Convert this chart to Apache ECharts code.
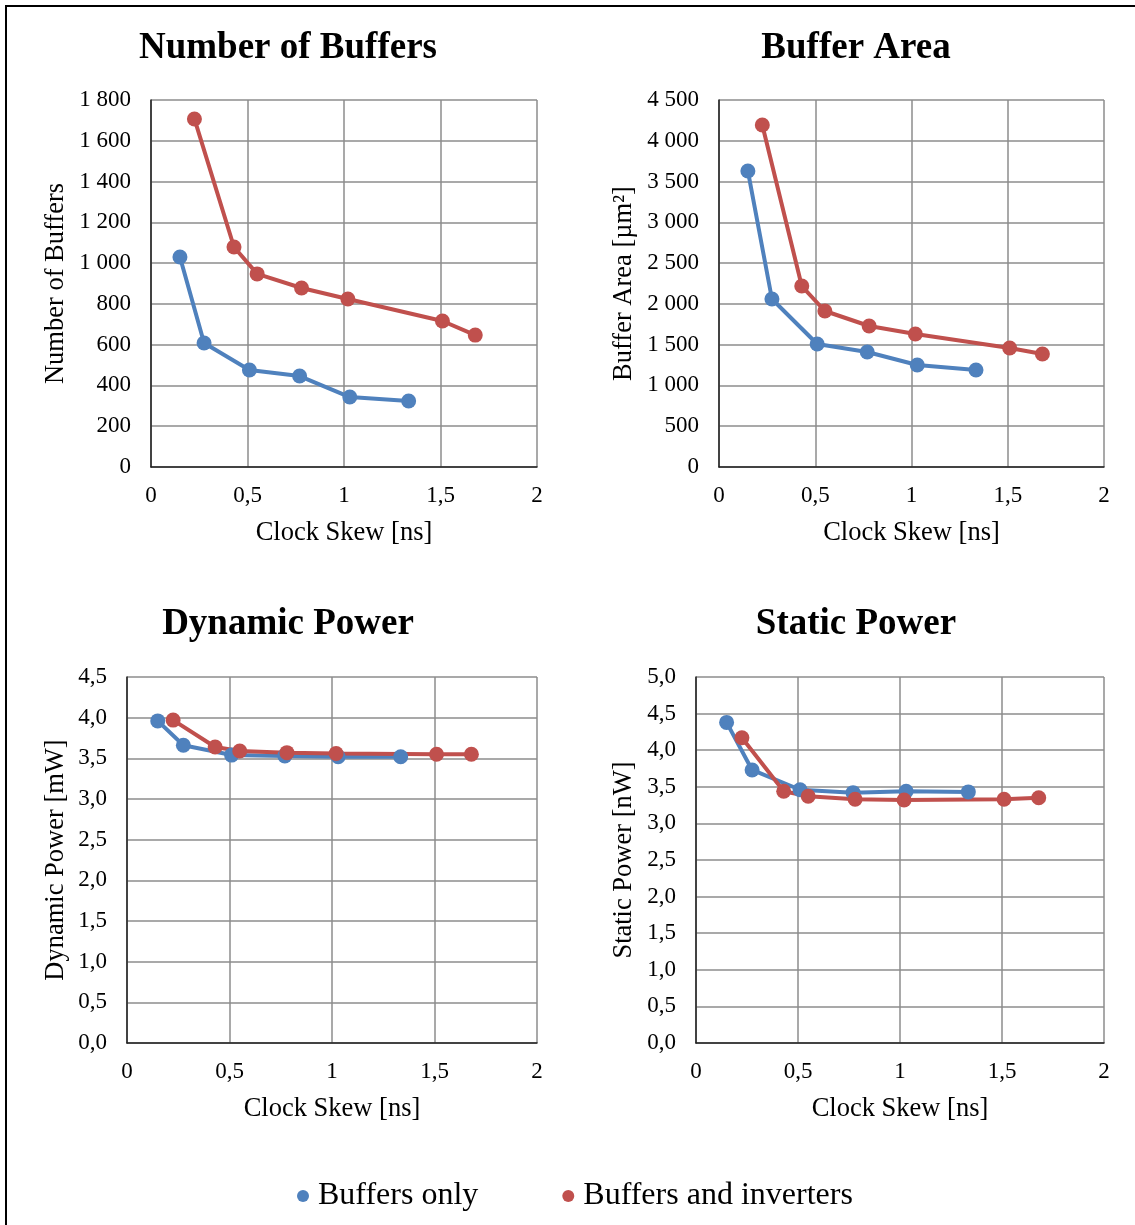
<!DOCTYPE html>
<html>
<head>
<meta charset="utf-8">
<script src="https://cdn.jsdelivr.net/npm/echarts@6/dist/echarts.min.js"></script>
<style>
  html, body { margin: 0; padding: 0; background: #fff; }
  #frame { position: absolute; left: 5px; top: 5px; width: 1135px; height: 1225px;
           border-left: 2px solid #000; border-top: 2px solid #000; box-sizing: border-box; }
  #chart { position: absolute; left: 0; top: 0; width: 1135px; height: 1225px; }
</style>
</head>
<body>
<div id="frame"></div>
<div id="chart"></div>
<script>
// clock skew [ns]
const skewBuffers = [0.15, 0.275, 0.51, 0.77, 1.03, 1.335]
const skewInverters = [0.225, 0.43, 0.55, 0.78, 1.02, 1.51, 1.68]

const countBuffers = [1030, 608, 476, 446, 343, 324]
const countInverters = [1707, 1079, 947, 878, 824, 716, 647]

const areaBuffers = [3630, 2060, 1508, 1410, 1251, 1189]
const areaInverters = [4193, 2219, 1913, 1729, 1631, 1459, 1386]

const dynBuffers = [3.96, 3.66, 3.54, 3.53, 3.52, 3.52]
const dynInverters = [3.97, 3.64, 3.59, 3.57, 3.56, 3.55, 3.55]

const statBuffers = [4.38, 3.73, 3.46, 3.42, 3.44, 3.43]
const statInverters = [4.17, 3.44, 3.37, 3.33, 3.32, 3.33, 3.35]

const titles = ['Number of Buffers', 'Buffer Area', 'Dynamic Power', 'Static Power']
const yNames = ['Number of Buffers', 'Buffer Area [µm²]', 'Dynamic Power [mW]', 'Static Power [nW]']
const yMax = [1800, 4500, 4.5, 5]
const yStep = [200, 500, 0.5, 0.5]

const SERIF = 'Liberation Serif, Times New Roman, serif'
const BLUE = '#4f81bd'
const RED = '#c0504d'

const grids = [
  { left: 151, top: 100, width: 386, height: 367 },
  { left: 719, top: 100, width: 385, height: 367 },
  { left: 127, top: 677, width: 410, height: 366 },
  { left: 696, top: 677, width: 408, height: 366 }
]
const titlePos = [[283, 25], [851, 25], [283, 601], [851, 601]]
const yNameGap = [81, 81, 57, 58]

const pairs = (xs, ys) => xs.map((x, i) => [x, ys[i]])

const thousands = (v) => String(v).replace(/\B(?=(\d{3})+(?!\d))/g, ' ')
const decimal = (v) => v.toFixed(1).replace('.', ',')

const gridLine = { show: true, lineStyle: { color: '#8c8c8c', width: 1.5 } }
const axisText = { fontFamily: SERIF, fontSize: 23, color: '#000' }
const nameText = { fontFamily: SERIF, fontSize: 26.5, color: '#000' }

const xAxes = grids.map((g, i) => ({
  type: 'value', gridIndex: i, min: 0, max: 2, interval: 0.5,
  name: 'Clock Skew [ns]', nameLocation: 'middle', nameGap: 53,
  nameTextStyle: nameText,
  axisLine: { show: true, onZero: false, lineStyle: { color: '#222', width: 1.5 } },
  axisTick: { show: false },
  axisLabel: Object.assign({ margin: 17, formatter: (v) => String(v).replace('.', ',') }, axisText),
  splitLine: gridLine
}))

const yAxes = grids.map((g, i) => ({
  type: 'value', gridIndex: i, min: 0, max: yMax[i], interval: yStep[i],
  name: yNames[i], nameLocation: 'middle', nameGap: yNameGap[i],
  nameTextStyle: nameText,
  axisLine: { show: true, lineStyle: { color: '#222', width: 1.5 } },
  axisTick: { show: false },
  axisLabel: Object.assign({ margin: 20, formatter: i < 2 ? thousands : decimal }, axisText),
  splitLine: gridLine
}))

const seriesSets = [
  [countBuffers, countInverters],
  [areaBuffers, areaInverters],
  [dynBuffers, dynInverters],
  [statBuffers, statInverters]
]

const series = []
seriesSets.forEach(([blue, red], i) => {
  series.push({
    name: 'Buffers only', type: 'line', xAxisIndex: i, yAxisIndex: i,
    data: pairs(skewBuffers, blue), symbol: 'circle', symbolSize: 15,
    itemStyle: { color: BLUE }, lineStyle: { color: BLUE, width: 4 }, animation: false
  })
  series.push({
    name: 'Buffers and inverters', type: 'line', xAxisIndex: i, yAxisIndex: i,
    data: pairs(skewInverters, red), symbol: 'circle', symbolSize: 15,
    itemStyle: { color: RED }, lineStyle: { color: RED, width: 4 }, animation: false
  })
})

const chart = echarts.init(document.getElementById('chart'))
chart.setOption({
  backgroundColor: 'transparent',
  title: titles.map((t, i) => ({
    text: t, left: titlePos[i][0], top: titlePos[i][1], textAlign: 'center',
    textStyle: { fontFamily: SERIF, fontSize: 37, fontWeight: 'bold', color: '#000' }
  })),
  legend: {
    left: 292, top: 1175, itemGap: 84, icon: 'circle', itemWidth: 12, itemHeight: 12,
    data: ['Buffers only', 'Buffers and inverters'],
    textStyle: { fontFamily: SERIF, fontSize: 32, color: '#000', padding: [0, 0, 0, 4] }
  },
  grid: grids,
  xAxis: xAxes,
  yAxis: yAxes,
  series: series
})
</script>
</body>
</html>
